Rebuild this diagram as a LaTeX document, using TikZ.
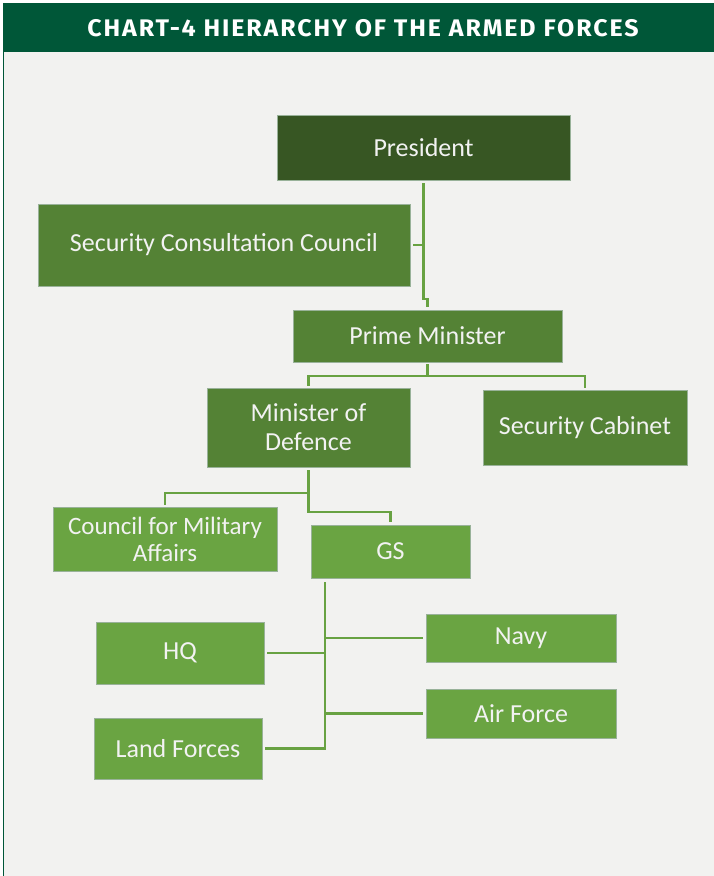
\documentclass[tikz,border=0pt]{standalone}
\usepackage{fontspec}
\setmainfont{Carlito}
\newfontfamily\headfont[FakeStretch=1.04, LetterSpace=8]{Fira Sans}
\usetikzlibrary{positioning}

\definecolor{hdgreen}{RGB}{0,87,56}
\definecolor{bggrey}{RGB}{242,242,240}
\definecolor{topgreen}{RGB}{55,86,35}
\definecolor{midgreen}{RGB}{84,130,53}
\definecolor{lowgreen}{RGB}{106,164,66}
\definecolor{linegreen}{RGB}{104,162,66}
\definecolor{txtgrey}{RGB}{242,242,242}

\begin{document}
\begin{tikzpicture}[x=1pt, y=-1pt,
  box/.style = {draw=white!75!green!40!gray, line width=0.8pt, text=txtgrey,
                inner sep=0pt, align=center, font=\fontsize{26}{29}\selectfont},
  link/.style = {draw=linegreen, line width=2.5pt}]

\useasboundingbox (0,0) rectangle (714,876);
\fill[bggrey] (4,52) rectangle (714,876);
\fill[hdgreen] (3,3) rectangle (714,52);
\draw[hdgreen, line width=1pt] (3.5,3) -- (3.5,876);
\node (title) at (363,28) {\headfont\bfseries\fontsize{24}{30}\selectfont\color{white}CHART-4 HIERARCHY OF THE ARMED FORCES};

% boxes
\node[box, fill=topgreen, minimum width=293, minimum height=65] (pres) at (423.5,147.5) {President};
\node[box, fill=midgreen, minimum width=372, minimum height=82] (scc) at (224,245) {Security Consultation Council};
\node[box, fill=midgreen, minimum width=269, minimum height=52] (pm) at (427.5,336) {Prime Minister};
\node[box, fill=midgreen, minimum width=203, minimum height=79] (mod) at (308.5,427.5) {Minister of\\Defence};
\node[box, fill=midgreen, minimum width=204, minimum height=75] (cab) at (585,427.5) {Security Cabinet};
\node[box, fill=lowgreen, minimum width=224, minimum height=64, font=\fontsize{25}{27}\selectfont] (cma) at (165,539) {Council for Military\\Affairs};
\node[box, fill=lowgreen, minimum width=159, minimum height=53] (gs) at (390.5,551.5) {GS};
\node[box, fill=lowgreen, minimum width=168, minimum height=62] (hq) at (180,653) {HQ};
\node[box, fill=lowgreen, minimum width=190, minimum height=48] (navy) at (521,638) {Navy};
\node[box, fill=lowgreen, minimum width=190, minimum height=49] (air) at (521,713.5) {Air Force};
\node[box, fill=lowgreen, minimum width=168, minimum height=61] (land) at (178,748.5) {Land Forces};

% connectors
\draw[link, shorten <=3pt, shorten >=3pt] (pres.south) -- (pres.south |- 0,299) -| (pm.north);
\draw[link, shorten <=3pt] (scc.east) -- (scc.east -| pres.south);

\coordinate (pmbar) at (pm.south |- 0,376);
\draw[link, shorten <=2pt] (pm.south) -- (pmbar);
\draw[link, shorten <=2pt] (mod.north) |- (pmbar);
\draw[link, shorten <=2pt] (cab.north) |- (pmbar);

\coordinate (modbar) at (mod.south |- 0,493);
\draw[link, shorten <=3pt, shorten >=2pt] (mod.south) -- (modbar) -| (cma.north);
\draw[link, shorten >=3pt] (modbar) -- ++(0,19) -| (gs.north);

\coordinate (gsbus) at (325,580);
\draw[link, shorten <=2pt] (gsbus) -- (gsbus |- land.east) -- ([xshift=3pt]land.east);
\foreach \n in {hq,navy,air} {\draw[link, shorten <=3pt] (\n) -- (\n -| gsbus);}

\end{tikzpicture}
\end{document}
